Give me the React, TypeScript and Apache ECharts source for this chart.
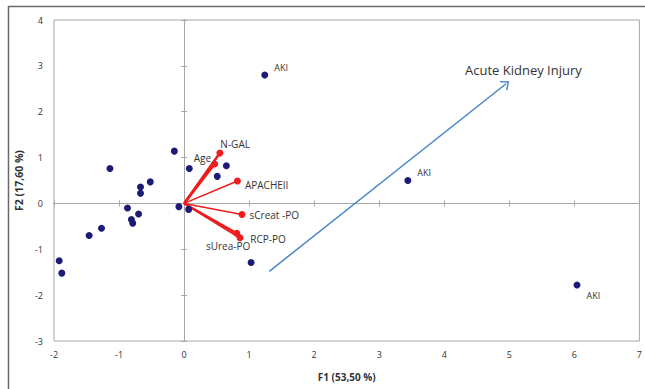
import React, { useEffect, useRef } from "react";
import * as echarts from "echarts";

const xTicks = { min: -2, max: 7, step: 1 };
const yTicks = { min: -3, max: 4, step: 1 };

const otherPoints: number[][] = [
  [-0.15, 1.14], [-1.14, 0.76], [0.08, 0.76], [0.65, 0.82], [0.51, 0.59],
  [-0.52, 0.47], [-0.67, 0.36], [-0.67, 0.22], [-0.87, -0.1], [-0.08, -0.07],
  [0.07, -0.13], [-0.7, -0.23], [-0.81, -0.35], [-0.79, -0.43], [-1.27, -0.54],
  [-1.46, -0.7], [-1.92, -1.25], [-1.88, -1.52], [1.03, -1.29],
];

const akiPoints: number[][] = [
  [1.24, 2.8],
  [3.44, 0.5],
  [6.04, -1.78],
];
const akiLabel = "AKI";

const vectorNames = ["N-GAL", "Age", "APACHEII", "sCreat -PO", "RCP-PO", "sUrea-PO"];
const vectorX = [0.55, 0.47, 0.82, 0.89, 0.81, 0.86];
const vectorY = [1.1, 0.86, 0.49, -0.24, -0.65, -0.75];

const arrowStart = [1.31, -1.48];
const arrowEnd = [4.95, 2.61];
const arrowText = "Acute Kidney Injury";

const xTitle = "F1 (53,50 %)";
const yTitle = "F2 (17,60 %)";

const FONT = "'Open Sans', 'Noto Sans', sans-serif";
const TXT = "#333333";
const GRAYLINE = "#a8a8a8";
const NAVY = "#1c1c78";

// label placement styles (positions/offsets), kept separate from data
const vecLabelStyle: any[] = [
  { position: "right", offset: [-3, -9] },
  { position: "left", offset: [0, -6] },
  { position: "right", offset: [4, 4] },
  { position: "right", offset: [4, 1] },
  { position: "right", offset: [10, 6] },
  { position: "bottom", offset: [-12, 0] },
];
const vecWidths = [2.5, 2.5, 1.5, 1.5, 2.2, 2.2];
const akiLabelStyle: any[] = [
  { position: "right", offset: [6, -8] },
  { position: "right", offset: [6, -8] },
  { position: "right", offset: [6, 10] },
];

const chevron = "path://M5,0 L10,5.6 L9.1,6.4 L5,1.8 L0.9,6.4 L0,5.6 Z";

export default function App() {
  const ref = useRef<HTMLDivElement>(null);
  useEffect(() => {
    if (!ref.current) return;
    const chart = echarts.init(ref.current, undefined, { renderer: "svg" });

    const baseX = { type: "value", min: xTicks.min, max: xTicks.max, interval: xTicks.step };
    const baseY = { type: "value", min: yTicks.min, max: yTicks.max, interval: yTicks.step };

    const zeroAxisX = (inside: boolean) => ({
      ...baseX,
      position: "bottom",
      axisLine: { show: true, onZero: true, onZeroAxisIndex: 0, lineStyle: { color: GRAYLINE, width: 1 } },
      axisTick: { show: true, inside, length: 3, lineStyle: { color: GRAYLINE } },
      axisLabel: { show: false },
      splitLine: { show: false },
    });
    const zeroAxisY = (inside: boolean) => ({
      ...baseY,
      position: "left",
      axisLine: { show: true, onZero: true, onZeroAxisIndex: 0, lineStyle: { color: GRAYLINE, width: 1 } },
      axisTick: { show: true, inside, length: 3, lineStyle: { color: GRAYLINE } },
      axisLabel: { show: false },
      splitLine: { show: false },
    });

    const vectorSeries = vectorNames.map((name, i) => ({
      type: "line",
      name,
      xAxisIndex: 0,
      yAxisIndex: 0,
      symbol: "circle",
      showSymbol: true,
      lineStyle: { color: "#ee1c1c", width: vecWidths[i] },
      itemStyle: { color: "#ee1c1c", opacity: 1 },
      data: [
        { value: [0, 0], symbolSize: 0.1, label: { show: false } },
        {
          value: [vectorX[i], vectorY[i]],
          symbolSize: 7,
          label: {
            show: true,
            formatter: name,
            distance: 0,
            color: TXT,
            fontFamily: FONT,
            fontSize: 10,
            ...vecLabelStyle[i],
          },
        },
      ],
      z: 3,
    }));

    chart.setOption({
      animation: false,
      grid: {
        left: 54,
        right: 5,
        top: 20,
        bottom: 48,
        show: true,
        borderColor: GRAYLINE,
        borderWidth: 1,
      },
      xAxis: [
        {
          ...baseX,
          position: "bottom",
          axisLine: { show: false, onZero: false },
          axisTick: { show: false },
          splitLine: { show: false },
          axisLabel: { color: TXT, fontFamily: FONT, fontSize: 9, margin: 9 },
          name: xTitle,
          nameLocation: "middle",
          nameGap: 31,
          nameTextStyle: { color: TXT, fontFamily: FONT, fontSize: 10, fontWeight: "bold" },
        },
        zeroAxisX(false),
        zeroAxisX(true),
      ],
      yAxis: [
        {
          ...baseY,
          position: "left",
          axisLine: { show: false, onZero: false },
          axisTick: { show: false },
          splitLine: { show: false },
          axisLabel: { color: TXT, fontFamily: FONT, fontSize: 9, margin: 11 },
          name: yTitle,
          nameLocation: "middle",
          nameGap: 28,
          nameTextStyle: { color: TXT, fontFamily: FONT, fontSize: 10.5, fontWeight: "bold" },
        },
        zeroAxisY(false),
        zeroAxisY(true),
      ],
      series: [
        {
          type: "scatter",
          symbolSize: 7,
          itemStyle: { color: NAVY, opacity: 1 },
          data: otherPoints,
          z: 4,
          markLine: {
            silent: true,
            symbol: ["none", chevron],
            symbolSize: [12, 8],
            label: { show: false },
            lineStyle: { color: "#4a86c8", width: 1.5, type: "solid" },
            data: [[{ coord: arrowStart }, { coord: arrowEnd }]],
          },
        },
        {
          type: "scatter",
          symbolSize: 7,
          itemStyle: { color: NAVY, opacity: 1 },
          z: 4,
          data: akiPoints.map((p, i) => ({
            value: p,
            label: {
              show: true,
              formatter: akiLabel,
              distance: 0,
              color: TXT,
              fontFamily: FONT,
              fontSize: 9,
              ...akiLabelStyle[i],
            },
          })),
        },
        ...vectorSeries,
      ],
      graphic: [
        {
          type: "line",
          shape: { x1: 8.5, y1: 6, x2: 8.5, y2: 389 },
          style: { stroke: "#6a6a6a", lineWidth: 1.5 },
          silent: true,
        },
        {
          type: "line",
          shape: { x1: 8, y1: 6.5, x2: 645, y2: 6.5 },
          style: { stroke: "#6a6a6a", lineWidth: 1.5 },
          silent: true,
        },
        {
          type: "text",
          left: 465,
          top: 63,
          style: { text: arrowText, fill: "#333", font: `13px ${FONT}` },
          silent: true,
        },
      ],
    });
    return () => chart.dispose();
  }, []);
  return (
    <div
      ref={ref}
      style={{ position: "fixed", left: 0, top: 0, width: 645, height: 389, background: "#fff" }}
    />
  );
}
